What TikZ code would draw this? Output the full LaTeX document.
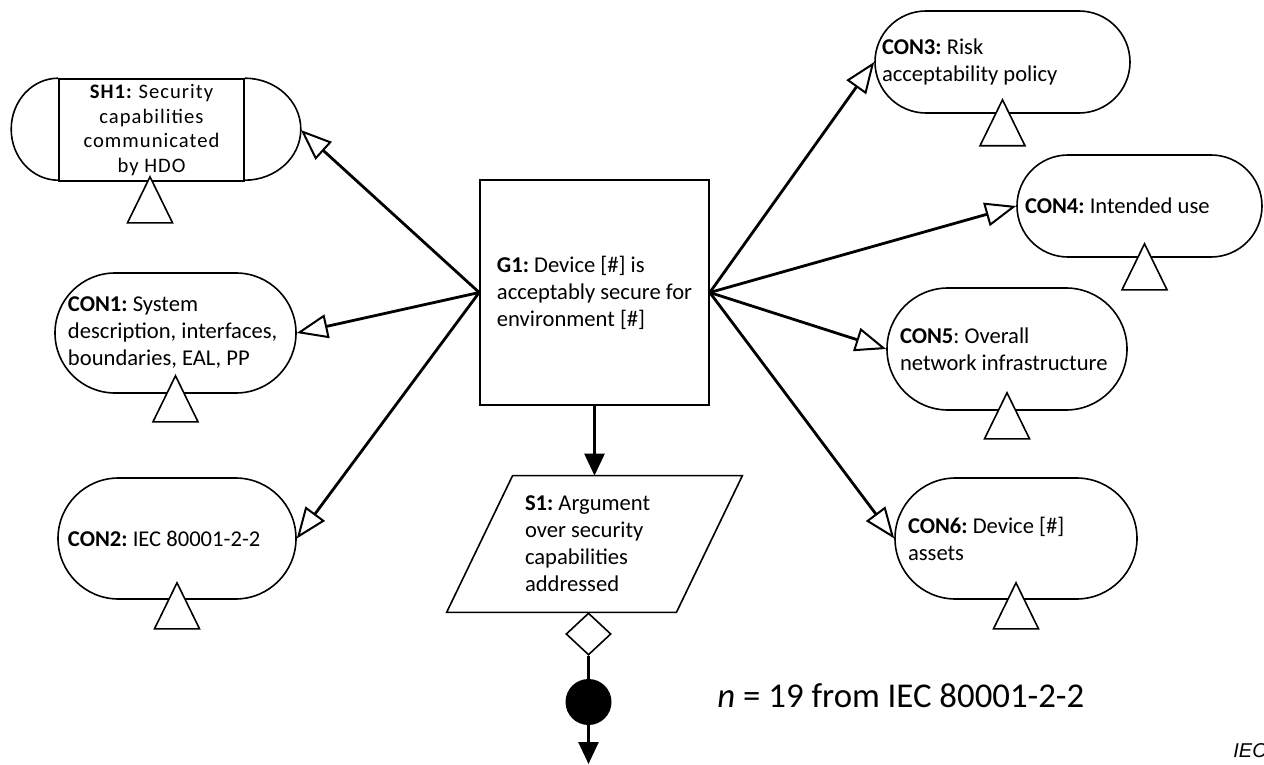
\documentclass[tikz,border=0pt]{standalone}
\usepackage{fontspec}
\setmainfont{Carlito}
\newfontfamily\shfont[LetterSpace=5]{Carlito}
\newfontfamily\iecfont{Liberation Sans}
\usetikzlibrary{arrows.meta,shapes.geometric,calc}

\begin{document}
\begin{tikzpicture}[x=0.5pt,y=-0.5pt,
  every node/.style={font=\fontsize{11.3}{13.5}\selectfont,
    execute at begin node={\frenchspacing\spaceskip=0pt\xspaceskip=0pt}},
  shapeline/.style={draw, line width=0.8pt},
  goalbox/.style={shapeline, rectangle, inner sep=0pt, align=flush left},
  stadium/.style={shapeline, rectangle, inner sep=0pt, align=flush left},
  ctxarrow/.style={line width=1.4pt,
    -{Triangle[fill=white, length=15.5pt, width=12pt, line width=1pt]}},
  flowarrow/.style={line width=1.4pt, -{Triangle[length=11pt, width=10pt]}},
  ctxmark/.pic={\draw[shapeline, fill=white] (0,-#1) -- (22.5,46-#1) -- (-22.5,46-#1) -- cycle;}
]
\useasboundingbox (0,0) rectangle (1264,765);

% goal
\node[goalbox, minimum width=114.5pt, minimum height=112.5pt] (G1) at (594.5,292.5)
  {\textbf{G1:} Device [\#] is\\acceptably secure for\\environment [\#]};

% strategy (parallelogram drawn around an invisible box)
\node[rectangle, inner sep=0pt, minimum width=114.5pt, minimum height=68pt,
      text width=69.5pt, align=flush left] (S1) at (594.5,544)
  {\textbf{S1:} Argument\\over security\\capabilities\\addressed};
\draw[shapeline] ([xshift=16.5pt]S1.north west) -- ([xshift=16.5pt]S1.north east)
  -- ([xshift=-16.5pt]S1.south east) -- ([xshift=-16.5pt]S1.south west) -- cycle;

% stakeholder box with elliptic ends
\node[shapeline, rectangle, inner sep=0pt, minimum width=92.5pt, minimum height=51pt,
      align=flush center, font=\shfont\fontsize{10.3}{12.3}\selectfont] (SH1) at (151.5,130)
  {\textbf{SH1:} Security\\capabilities\\communicated\\by HDO};
\draw[shapeline] (SH1.north west) arc[start angle=90, end angle=270, x radius=23.5pt, y radius=25.5pt];
\draw[shapeline] (SH1.north east) arc[start angle=90, end angle=-90, x radius=28pt, y radius=25.5pt];
\coordinate (SH1e) at ([xshift=28pt]SH1.east);

% contexts
\node[stadium, minimum width=120.5pt, minimum height=60pt, rounded corners=30pt,
      text width=107.5pt] (CON1) at (175.5,333)
  {\textbf{CON1:} System\\description,~interfaces,\\boundaries,~EAL,~PP};
\node[stadium, minimum width=119pt, minimum height=60.5pt, rounded corners=30.25pt,
      text width=109pt] (CON2) at (177,538.5)
  {\textbf{CON2:} IEC 80001-2-2};
\node[stadium, minimum width=127.5pt, minimum height=51pt, rounded corners=25.5pt,
      text width=120.5pt] (CON3) at (1002.5,62)
  {\textbf{CON3:} Risk\\acceptability policy};
\node[stadium, minimum width=122.5pt, minimum height=51pt, rounded corners=25.5pt,
      text width=114.5pt] (CON4) at (1139.5,206)
  {\textbf{CON4:} Intended use};
\node[stadium, minimum width=120pt, minimum height=61pt, rounded corners=30.5pt,
      text width=107pt] (CON5) at (1007,349)
  {\textbf{CON5}: Overall\\network~infrastructure};
\node[stadium, minimum width=121pt, minimum height=60.5pt, rounded corners=30.25pt,
      text width=108pt] (CON6) at (1016,538.5)
  {\textbf{CON6:} Device [\#]\\assets};

% context markers
\pic at ([xshift=-0.75pt]SH1.south) {ctxmark=5};
\pic at (CON1.south) {ctxmark=18};
\pic at (CON2.south) {ctxmark=17};
\pic at (CON3.south) {ctxmark=14};
\pic at ([xshift=2.5pt]CON4.south) {ctxmark=14};
\pic at (CON5.south) {ctxmark=18};
\pic at (CON6.south) {ctxmark=17};

% in-context-of links
\draw[ctxarrow] (G1.west) -- (SH1e);
\draw[ctxarrow] (G1.west) -- (CON1.east);
\draw[ctxarrow] (G1.west) -- (CON2.east);
\draw[ctxarrow] (G1.east) -- (CON3.west);
\draw[ctxarrow] (G1.east) -- (CON4.west);
\draw[ctxarrow] (G1.east) -- (CON5.west);
\draw[ctxarrow] (G1.east) -- (CON6.west);

% supported-by link and multiplicity
\draw[flowarrow] (G1.south) -- (S1.north);
\node[shapeline, diamond, shape aspect=1, inner sep=0pt, minimum width=22.5pt,
      minimum height=21pt] (D1) at (588.5,634) {};
\node[circle, fill=black, inner sep=0pt, minimum size=23pt] (C1) at (588.5,702) {};
\coordinate (S1out) at (588.5,764);
\draw[line width=1.4pt] (D1.south) -- (C1.north);
\draw[flowarrow] (C1.south) -- (S1out);

% notes
\node[anchor=base west, inner sep=0pt, font=\fontsize{17.4}{21}\selectfont] (nnote)
  at (717,707) {\textit{n} = 19 from IEC 80001-2-2};
\node[anchor=base west, inner sep=0pt, font=\iecfont\itshape\fontsize{10}{12}\selectfont] (iec)
  at (1233,757) {IEC};
\end{tikzpicture}
\end{document}
